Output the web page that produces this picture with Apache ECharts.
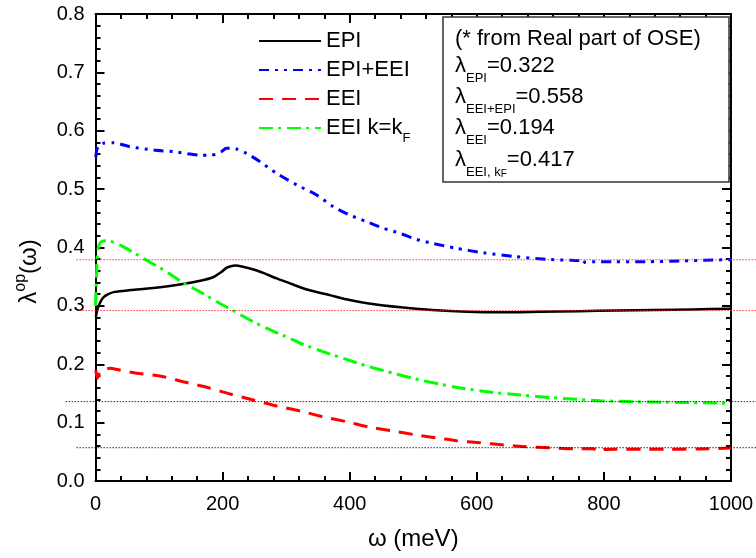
<!DOCTYPE html>
<html><head><meta charset="utf-8">
<script src="https://cdn.jsdelivr.net/npm/echarts@6/dist/echarts.min.js"></script>
<style>html,body{margin:0;padding:0;background:#fff}#c{width:756px;height:558px}</style>
</head><body><div id="c"></div>
<script>
// ---- data ----
const epiX = [0.5, 3, 7, 12, 20, 30, 55, 95, 135, 165, 185, 198, 206, 213, 220, 232, 250, 265, 285, 305, 322, 340, 370, 400, 430, 480, 530, 585, 640, 700, 760, 820, 880, 940, 1000];
const epiY = [0.281, 0.294, 0.305, 0.314, 0.320, 0.324, 0.327, 0.331, 0.337, 0.343, 0.349, 0.358, 0.365, 0.368, 0.369, 0.367, 0.362, 0.356, 0.347, 0.339, 0.332, 0.326, 0.318, 0.310, 0.304, 0.2975, 0.293, 0.290, 0.289, 0.290, 0.291, 0.292, 0.293, 0.294, 0.295];

const sumX = [0.5, 2, 6, 12, 28, 54, 91, 128, 149, 165, 180, 190, 198, 206, 214, 222, 238, 259, 285, 317, 348, 374, 400, 427, 453, 479, 505, 531, 568, 610, 660, 710, 750, 762, 766, 770, 790, 815, 867, 920, 972, 1000];
const sumY = [0.555, 0.567, 0.575, 0.5785, 0.5796, 0.5727, 0.567, 0.5636, 0.560, 0.558, 0.558, 0.560, 0.564, 0.570, 0.570, 0.5687, 0.561, 0.547, 0.527, 0.507, 0.490, 0.470, 0.4557, 0.444, 0.433, 0.4243, 0.414, 0.407, 0.3986, 0.391, 0.3845, 0.3798, 0.378, 0.3774, 0.372, 0.375, 0.3757, 0.3757, 0.3757, 0.3769, 0.3786, 0.379];

const eeiX = [0.5, 3, 8, 23, 38, 65, 101, 138, 175, 212, 248, 285, 322, 358, 395, 432, 469, 505, 542, 568, 605, 642, 678, 715, 752, 783, 790, 795, 800, 820, 860, 900, 950, 1000];
const eeiY = [0.190, 0.176, 0.188, 0.193, 0.190, 0.1845, 0.180, 0.170, 0.1605, 0.149, 0.1388, 0.1285, 0.120, 0.110, 0.1016, 0.092, 0.0855, 0.0788, 0.0731, 0.069, 0.0656, 0.0617, 0.0588, 0.057, 0.0553, 0.0553, 0.052, 0.050, 0.054, 0.0543, 0.0543, 0.0543, 0.055, 0.0565];

const kfX = [0, 1.5, 3, 5, 8, 15, 23, 44, 75, 107, 138, 164, 191, 217, 243, 275, 306, 322, 358, 390, 427, 469, 511, 563, 616, 668, 720, 794, 846, 899, 952, 1000];
const kfY = [0.30, 0.35, 0.39, 0.402, 0.409, 0.4117, 0.411, 0.401, 0.3815, 0.3615, 0.3397, 0.3243, 0.307, 0.2917, 0.2758, 0.2587, 0.2444, 0.236, 0.2215, 0.210, 0.197, 0.1845, 0.173, 0.1615, 0.153, 0.1473, 0.1427, 0.1376, 0.1358, 0.1348, 0.134, 0.133];

const seriesNames = ['EPI', 'EPI+EEI', 'EEI', 'EEI k=kF'];
const refLevels = [0.379, 0.292, 0.136, 0.057];
const refStartX = [-30, -30, -47, -30];
const refEndX = 1040;
const boxTitle = '(* from Real part of OSE)';
const lambdaSubs = ['EPI', 'EEI+EPI', 'EEI', 'EEI, k'];
const lambdaVals = ['0.322', '0.558', '0.194', '0.417'];
const xTickStep = 200, yTickStep = 0.1;

// ---- styles ----
const FONT = '"Liberation Sans", Arial, Helvetica, sans-serif';
const refColors = ['#ff2020', '#ff2020', '#000', '#000'];
const colors = ['#000000', '#0000ff', '#ff0000', '#00ff00'];
const dashes = ['solid', [10, 6, 3, 6, 3, 6], [14, 9], [14, 5, 3, 6]];
const widths = [2.5, 3, 3, 3];

function pairs(xs, ys) { return xs.map((x, i) => [x, ys[i]]); }
const allData = [pairs(epiX, epiY), pairs(sumX, sumY), pairs(eeiX, eeiY), pairs(kfX, kfY)];

const chart = echarts.init(document.getElementById('c'), null, {renderer: 'canvas'});

const axisCommon = {
  type: 'value',
  axisLine: {show: true, onZero: false, lineStyle: {color: '#000', width: 2}},
  axisTick: {show: true, inside: true, length: 9, lineStyle: {color: '#000', width: 2}},
  minorTick: {show: true, splitNumber: 5, length: 5, lineStyle: {color: '#000', width: 2}},
  splitLine: {show: false},
  minorSplitLine: {show: false}
};

const option = {
  animation: false,
  backgroundColor: '#fff',
  grid: {left: 95.5, right: 25, top: 14, bottom: 77, containLabel: false, outerBoundsMode: 'none'},
  legend: {
    orient: 'vertical', left: 258, top: 24.5, padding: 0,
    itemWidth: 62, itemHeight: 22, itemGap: -4,
    data: seriesNames,
    itemStyle: {opacity: 0},
    textStyle: {fontFamily: FONT, fontSize: 22, lineHeight: 33, color: '#000',
      rich: {sub: {fontFamily: FONT, fontSize: 13, lineHeight: 13, color: '#000', padding: [20, 0, 0, 0]}}},
    formatter: n => n === 'EEI k=kF' ? 'EEI k=k{sub|F}' : n
  },
  xAxis: [
    Object.assign({}, axisCommon, {
      position: 'bottom', min: 0, max: 1000, interval: xTickStep,
      axisLabel: {show: true, margin: 13, fontFamily: FONT, fontSize: 20, color: '#000',
        formatter: v => String(v)},
      name: 'ω (meV)', nameLocation: 'middle', nameGap: 46,
      nameTextStyle: {fontFamily: FONT, fontSize: 24, color: '#000'}
    }),
    Object.assign({}, axisCommon, {
      position: 'top', min: 0, max: 1000, interval: xTickStep,
      axisLabel: {show: false}
    })
  ],
  yAxis: [
    Object.assign({}, axisCommon, {
      position: 'left', min: 0, max: 0.8, interval: yTickStep,
      axisLabel: {show: true, margin: 11, fontFamily: FONT, fontSize: 20, color: '#000',
        formatter: v => v.toFixed(1)},
      name: '{m|λ}{sup|op}{m|(ω)}', nameLocation: 'middle', nameGap: 52, nameRotate: 90,
      nameTextStyle: {fontFamily: FONT, fontSize: 24, color: '#000', padding: [0, 48, 0, 0],
        rich: {
          m: {fontFamily: FONT, fontSize: 24, lineHeight: 28, color: '#000'},
          sup: {fontFamily: FONT, fontSize: 16, lineHeight: 16, color: '#000', padding: [-18, 0, 0, 0]}
        }}
    }),
    Object.assign({}, axisCommon, {
      position: 'right', min: 0, max: 0.8, interval: yTickStep,
      axisLabel: {show: false}
    })
  ],
  series: seriesNames.map((n, i) => ({
    name: n, type: 'line', xAxisIndex: 0, yAxisIndex: 0,
    data: allData[i], symbol: 'none', showSymbol: false, smooth: 0.25,
    lineStyle: {color: colors[i], width: widths[i], type: dashes[i]},
    itemStyle: {color: colors[i]}, z: 3
  }))
};
chart.setOption(option);

// ---- reference levels and text box ----
const graphics = [];
refLevels.forEach((v, i) => {
  const a = chart.convertToPixel({xAxisIndex: 0, yAxisIndex: 0}, [refStartX[i], v]);
  const b = chart.convertToPixel({xAxisIndex: 0, yAxisIndex: 0}, [refEndX, v]);
  graphics.push({type: 'line', z: 10, silent: true,
    shape: {x1: a[0], y1: a[1], x2: b[0], y2: b[1]},
    style: {stroke: refColors[i], lineWidth: 1, lineDash: [1.5, 1.5], opacity: 0.85}});
});
graphics.push({type: 'rect', z: 20, shape: {x: 443, y: 17, width: 286, height: 165},
  style: {fill: '#fff', stroke: '#333', lineWidth: 1.5}});
const rowY = [38.5, 66, 96.5, 127.5, 159.5];
const richBox = {
  m: {fontFamily: FONT, fontSize: 22, lineHeight: 22, fill: '#000'},
  s: {fontFamily: FONT, fontSize: 13, lineHeight: 13, fill: '#000', padding: [25, 0, 0, 0]},
  ss: {fontFamily: FONT, fontSize: 10, lineHeight: 10, fill: '#000', padding: [30, 0, 0, 0]}
};
graphics.push({type: 'text', z: 21, style: {text: boxTitle, x: 455, y: rowY[0],
  verticalAlign: 'middle', fontFamily: FONT, fontSize: 22, fill: '#000'}});
lambdaSubs.forEach((s, i) => {
  let t = '{m|λ}{s|' + s + '}';
  if (s === 'EEI, k') t += '{ss|F}';
  t += '{m|=' + lambdaVals[i] + '}';
  graphics.push({type: 'text', z: 21, style: {text: t, x: 455, y: rowY[i + 1],
    verticalAlign: 'middle', rich: richBox, fontFamily: FONT, fontSize: 22, fill: '#000'}});
});
chart.setOption({graphic: graphics});
</script></body></html>
